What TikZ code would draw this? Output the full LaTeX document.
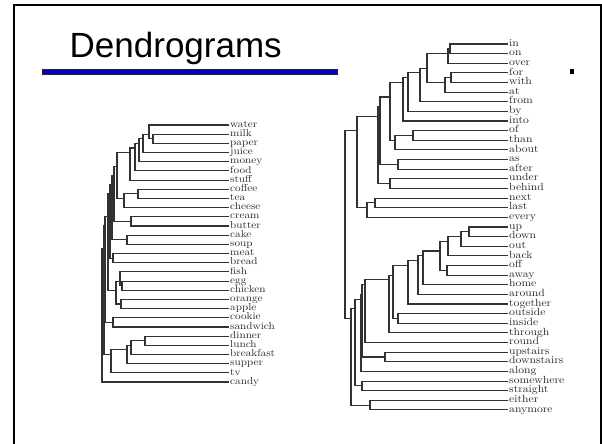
\documentclass[tikz,border=0pt]{standalone}
\usepackage{fontspec}
\newfontfamily\titlefont{Liberation Sans}
\newfontfamily\lblfont[FakeStretch=1.12]{Latin Modern Roman}
\definecolor{barblue}{RGB}{0,0,190}
\definecolor{treegray}{RGB}{50,50,50}

% leaf: name, x, y, text  (stores weight and y for averaging)
\newcommand\dgleaf[4]{%
  \node[dglabel] (#1) at (#2,#3) {#4};
  \expandafter\xdef\csname dgw@#1\endcsname{1}%
  \expandafter\xdef\csname dgy@#1\endcsname{#3}%
}
% merge: name, x, child A, child B; parent sits at the mean height of its leaves
\newcommand\dgmerge[4]{%
  \pgfmathsetmacro\dgwa{\csname dgw@#3\endcsname}%
  \pgfmathsetmacro\dgwb{\csname dgw@#4\endcsname}%
  \pgfmathsetmacro\dgya{\csname dgy@#3\endcsname}%
  \pgfmathsetmacro\dgyb{\csname dgy@#4\endcsname}%
  \pgfmathsetmacro\dgyn{(\dgwa*\dgya+\dgwb*\dgyb)/(\dgwa+\dgwb)}%
  \pgfmathsetmacro\dgwn{\dgwa+\dgwb}%
  \coordinate (#1) at (#2,\dgyn);
  \expandafter\xdef\csname dgw@#1\endcsname{\dgwn}%
  \expandafter\xdef\csname dgy@#1\endcsname{\dgyn}%
  \draw[dgline] (#3) -- (#3 -| #1) -- (#4 -| #1) -- (#4);
}

\begin{document}
\begin{tikzpicture}[x=1pt,y=-1pt,
  dglabel/.style={anchor=west,inner xsep=1pt,inner ysep=0pt,text height=1.2ex,text depth=0.2ex,text=black!85},
  dgline/.style={draw=treegray,line width=1.1pt}]
\useasboundingbox (0,0) rectangle (602,444);

% slide frame
\draw[line width=2pt] (13.5,446) -- (13.5,5.5) -- (600.5,5.5) -- (600.5,446);

% title and rule
\node[anchor=base west,inner sep=0pt,font=\titlefont\fontsize{35}{35}\selectfont] (title) at (69.5,57) {Dendrograms};
\draw[draw=black!85,fill=barblue,line width=0.6pt] (42,69.5) rectangle (337,74) node[coordinate] (bar) {};
\fill (570,69) rectangle (574,74) node[coordinate] (dot) {};

% ---------- left dendrogram ----------
\begin{scope}[every node/.append style={font=\lblfont\fontsize{10}{10}\selectfont}]
\def\lx{229}
\def\ly#1{125+9.18*#1}
\dgleaf{water}{\lx}{\ly{0}}{water}
\dgleaf{milk}{\lx}{\ly{1}}{milk}
\dgleaf{paper}{\lx}{\ly{2}}{paper}
\dgleaf{juice}{\lx}{\ly{3}}{juice}
\dgleaf{money}{\lx}{\ly{4}}{money}
\dgleaf{food}{\lx}{\ly{5}}{food}
\dgleaf{stuff}{\lx}{\ly{6}}{stuff}
\dgleaf{coffee}{\lx}{\ly{7}}{coffee}
\dgleaf{tea}{\lx}{\ly{8}}{tea}
\dgleaf{cheese}{\lx}{\ly{9}}{cheese}
\dgleaf{cream}{\lx}{\ly{10}}{cream}
\dgleaf{butter}{\lx}{\ly{11}}{butter}
\dgleaf{cake}{\lx}{\ly{12}}{cake}
\dgleaf{soup}{\lx}{\ly{13}}{soup}
\dgleaf{meat}{\lx}{\ly{14}}{meat}
\dgleaf{bread}{\lx}{\ly{15}}{bread}
\dgleaf{fish}{\lx}{\ly{16}}{fish}
\dgleaf{egg}{\lx}{\ly{17}}{egg}
\dgleaf{chicken}{\lx}{\ly{18}}{chicken}
\dgleaf{orange}{\lx}{\ly{19}}{orange}
\dgleaf{apple}{\lx}{\ly{20}}{apple}
\dgleaf{cookie}{\lx}{\ly{21}}{cookie}
\dgleaf{sandwich}{\lx}{\ly{22}}{sandwich}
\dgleaf{dinner}{\lx}{\ly{23}}{dinner}
\dgleaf{lunch}{\lx}{\ly{24}}{lunch}
\dgleaf{breakfast}{\lx}{\ly{25}}{breakfast}
\dgleaf{supper}{\lx}{\ly{26}}{supper}
\dgleaf{tv}{\lx}{\ly{27}}{tv}
\dgleaf{candy}{\lx}{\ly{28}}{candy}

\dgmerge{L1}{153}{milk}{paper}
\dgmerge{L2}{149}{water}{L1}
\dgmerge{L3}{143}{L2}{juice}
\dgmerge{L4}{139}{L3}{money}
\dgmerge{L5}{135}{L4}{food}
\dgmerge{L6}{130}{L5}{stuff}
\dgmerge{L7}{138}{coffee}{tea}
\dgmerge{L8}{124}{L7}{cheese}
\dgmerge{L9}{117}{L6}{L8}
\dgmerge{L10}{131}{cream}{butter}
\dgmerge{L11}{114}{L9}{L10}
\dgmerge{L12}{127}{cake}{soup}
\dgmerge{L13}{112}{L11}{L12}
\dgmerge{L14}{113}{meat}{bread}
\dgmerge{L15}{110}{L13}{L14}
\dgmerge{L16}{122}{egg}{chicken}
\dgmerge{L17}{120}{fish}{L16}
\dgmerge{L18}{121}{orange}{apple}
\dgmerge{L19}{116}{L17}{L18}
\dgmerge{L20}{108}{L15}{L19}
\dgmerge{L21}{113}{cookie}{sandwich}
\dgmerge{L22}{105}{L20}{L21}
\dgmerge{L23}{145}{dinner}{lunch}
\dgmerge{L24}{131}{L23}{breakfast}
\dgmerge{L25}{127}{L24}{supper}
\dgmerge{L26}{111}{L25}{tv}
\dgmerge{L27}{104}{L22}{L26}
\dgmerge{L28}{102}{L27}{candy}
\end{scope}

% ---------- right dendrogram ----------
\begin{scope}[every node/.append style={font=\lblfont\fontsize{10.4}{10.4}\selectfont}]
\def\rx{508}
\def\ry#1{44+9.63*#1}
\dgleaf{in}{\rx}{\ry{0}}{in}
\dgleaf{on}{\rx}{\ry{1}}{on}
\dgleaf{over}{\rx}{\ry{2}}{over}
\dgleaf{for}{\rx}{\ry{3}}{for}
\dgleaf{with}{\rx}{\ry{4}}{with}
\dgleaf{at}{\rx}{\ry{5}}{at}
\dgleaf{from}{\rx}{\ry{6}}{from}
\dgleaf{by}{\rx}{\ry{7}}{by}
\dgleaf{into}{\rx}{\ry{8}}{into}
\dgleaf{of}{\rx}{\ry{9}}{of}
\dgleaf{than}{\rx}{\ry{10}}{than}
\dgleaf{about}{\rx}{\ry{11}}{about}
\dgleaf{as}{\rx}{\ry{12}}{as}
\dgleaf{after}{\rx}{\ry{13}}{after}
\dgleaf{under}{\rx}{\ry{14}}{under}
\dgleaf{behind}{\rx}{\ry{15}}{behind}
\dgleaf{next}{\rx}{\ry{16}}{next}
\dgleaf{last}{\rx}{\ry{17}}{last}
\dgleaf{every}{\rx}{\ry{18}}{every}
\dgleaf{up}{\rx}{\ry{19}}{up}
\dgleaf{down}{\rx}{\ry{20}}{down}
\dgleaf{out}{\rx}{\ry{21}}{out}
\dgleaf{back}{\rx}{\ry{22}}{back}
\dgleaf{off}{\rx}{\ry{23}}{off}
\dgleaf{away}{\rx}{\ry{24}}{away}
\dgleaf{home}{\rx}{\ry{25}}{home}
\dgleaf{around}{\rx}{\ry{26}}{around}
\dgleaf{together}{\rx}{\ry{27}}{together}
\dgleaf{outside}{\rx}{\ry{28}}{outside}
\dgleaf{inside}{\rx}{\ry{29}}{inside}
\dgleaf{through}{\rx}{\ry{30}}{through}
\dgleaf{round}{\rx}{\ry{31}}{round}
\dgleaf{upstairs}{\rx}{\ry{32}}{upstairs}
\dgleaf{downstairs}{\rx}{\ry{33}}{downstairs}
\dgleaf{along}{\rx}{\ry{34}}{along}
\dgleaf{somewhere}{\rx}{\ry{35}}{somewhere}
\dgleaf{straight}{\rx}{\ry{36}}{straight}
\dgleaf{either}{\rx}{\ry{37}}{either}
\dgleaf{anymore}{\rx}{\ry{38}}{anymore}

\dgmerge{R1}{450}{in}{on}
\dgmerge{R2}{448}{R1}{over}
\dgmerge{R3}{451}{for}{with}
\dgmerge{R4}{445}{R3}{at}
\dgmerge{R5}{427}{R2}{R4}
\dgmerge{R6}{420}{R5}{from}
\dgmerge{R7}{408}{R6}{by}
\dgmerge{R8}{403}{R7}{into}
\dgmerge{R9}{413}{of}{than}
\dgmerge{R10}{395}{R9}{about}
\dgmerge{R11}{390}{R8}{R10}
\dgmerge{R12}{398}{as}{after}
\dgmerge{R13}{380}{R11}{R12}
\dgmerge{R14}{390}{under}{behind}
\dgmerge{R15}{378}{R13}{R14}
\dgmerge{R16}{375}{next}{last}
\dgmerge{R17}{367}{R16}{every}
\dgmerge{R18}{357}{R15}{R17}

\dgmerge{B1}{469}{up}{down}
\dgmerge{B2}{461}{B1}{out}
\dgmerge{B3}{448}{B2}{back}
\dgmerge{B4}{447}{off}{away}
\dgmerge{B5}{440}{B3}{B4}
\dgmerge{B6}{423}{B5}{home}
\dgmerge{B7}{418}{B6}{around}
\dgmerge{B8}{408}{B7}{together}
\dgmerge{B9}{398}{outside}{inside}
\dgmerge{B10}{393}{B8}{B9}
\dgmerge{B11}{389}{B10}{through}
\dgmerge{B12}{365}{B11}{round}
\dgmerge{B13}{385}{upstairs}{downstairs}
\dgmerge{B14}{362}{B12}{B13}
\dgmerge{B15}{361}{B14}{along}
\dgmerge{B16}{362}{somewhere}{straight}
\dgmerge{B17}{355}{B15}{B16}
\dgmerge{B18}{370}{either}{anymore}
\dgmerge{B19}{351}{B17}{B18}
\dgmerge{RT}{345}{R18}{B19}
\end{scope}
\end{tikzpicture}
\end{document}
